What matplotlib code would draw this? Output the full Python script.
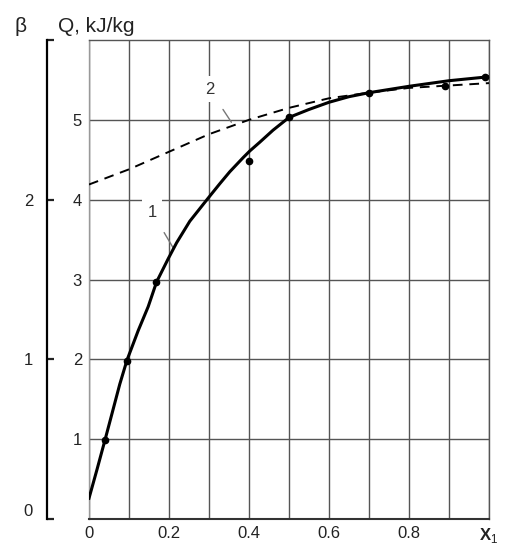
import matplotlib.pyplot as plt
import numpy as np

plt.rcParams["font.family"] = ["Liberation Sans", "DejaVu Sans"]
plt.rcParams["mathtext.fontset"] = "custom"
plt.rcParams["mathtext.rm"] = "Liberation Sans"
plt.rcParams["mathtext.bf"] = "Liberation Sans:bold"

# curva 1 (linea continua) y puntos experimentales
x1 = [0, 0.02, 0.04, 0.058, 0.077, 0.095, 0.123, 0.148, 0.169, 0.198, 0.219, 0.252, 0.298,
      0.327, 0.352, 0.386, 0.402, 0.427, 0.46, 0.5, 0.55, 0.6, 0.65, 0.7, 0.8, 0.9, 1.0]
q1 = [0.26, 0.62, 0.99, 1.33, 1.69, 1.99, 2.36, 2.66, 2.97, 3.26, 3.46, 3.73, 4.02,
      4.2, 4.35, 4.53, 4.61, 4.72, 4.87, 5.03, 5.13, 5.22, 5.29, 5.34, 5.42, 5.49, 5.54]
pts_x = [0.04, 0.095, 0.167, 0.40, 0.50, 0.70, 0.89, 0.99]
pts_q = [0.99, 1.98, 2.97, 4.49, 5.03, 5.34, 5.42, 5.54]

# curva 2 (discontinua)
x2 = [0, 0.1, 0.2, 0.3, 0.4, 0.5, 0.6, 0.7, 0.8, 0.9, 1.0]
q2 = [4.19, 4.38, 4.6, 4.82, 5.0, 5.15, 5.27, 5.34, 5.4, 5.43, 5.46]

xticks = [0, 0.2, 0.4, 0.6, 0.8, 1.0]
xlabels = ["0", "0.2", "0.4", "0.6", "0.8", r"$\mathbf{X}_\mathrm{1}$"]
qticks = [1, 2, 3, 4, 5]
bticks = [0, 1, 2, 3]
blabels = ["0", "1", "2", ""]

W, H = 509, 550
fig = plt.figure(figsize=(W / 100, H / 100), dpi=100)
ax = fig.add_axes([89 / W, (H - 519) / H, 400 / W, 479 / H])

gc = "#555555"
ax.set_xlim(0, 1.0)
ax.set_ylim(0, 6.0)
ax.set_xticks(np.arange(0, 1.01, 0.1), minor=True)
ax.set_xticks(xticks)
ax.set_xticklabels(xlabels, fontsize=12)
ax.set_yticks(qticks)
ax.set_yticklabels([str(v) for v in qticks], fontsize=12)
ax.grid(True, which="both", axis="x", color=gc, lw=1.0)
ax.grid(True, axis="y", color=gc, lw=1.0)
ax.tick_params(which="both", length=0, pad=5, colors="#222222")
for s in ax.spines.values():
    s.set_color(gc)
    s.set_linewidth(1.0)
ax.spines["left"].set_color("#999999")
ax.spines["bottom"].set_color("#333333")
ax.spines["bottom"].set_linewidth(1.5)

ax.plot(x2, q2, color="black", lw=1.4, ls=(0, (5, 3.5)), zorder=3)
ax.plot(x1, q1, color="black", lw=2.2, zorder=4, solid_joinstyle="round")
ax.plot(pts_x, pts_q, "o", color="black", ms=4.5, zorder=5)

# etiquetas de curvas
ax.annotate("1", xy=(0.21, 3.4), xytext=(0.158, 3.84), fontsize=12, color="#333333",
            ha="center", va="center",
            bbox=dict(fc="white", ec="none", pad=4),
            arrowprops=dict(arrowstyle="-", color="#777777", lw=1.0, shrinkA=6, shrinkB=0))
ax.annotate("2", xy=(0.356, 4.97), xytext=(0.302, 5.38), fontsize=12, color="#333333",
            ha="center", va="center",
            bbox=dict(fc="white", ec="none", pad=4),
            arrowprops=dict(arrowstyle="-", color="#777777", lw=1.0, shrinkA=6, shrinkB=0))

# eje beta
ax2 = ax.twinx()
ax2.set_ylim(0, 3.0)
ax2.yaxis.set_ticks_position("left")
ax2.yaxis.set_label_position("left")
for k in ["right", "top", "bottom"]:
    ax2.spines[k].set_visible(False)
ax2.spines["left"].set_position(("axes", -42 / 400))
ax2.spines["left"].set_linewidth(1.6)
ax2.set_yticks(bticks)
ax2.set_yticklabels(blabels, fontsize=12)
ax2.set_yticks([0], minor=True)
ax2.tick_params(which="major", direction="in", length=5, width=1.6, pad=10, colors="#222222")
ax2.tick_params(which="minor", direction="out", length=8, width=1.6)
ax2.get_yticklabels()[0].set_va("bottom")

fig.text(15 / W, 1 - 27 / H, "β", fontsize=15, ha="left", va="center", color="#222222")
fig.text(58 / W, 1 - 27 / H, "Q, kJ/kg", fontsize=15, ha="left", va="center", color="#222222")

fig.savefig("out.png", dpi=100)
